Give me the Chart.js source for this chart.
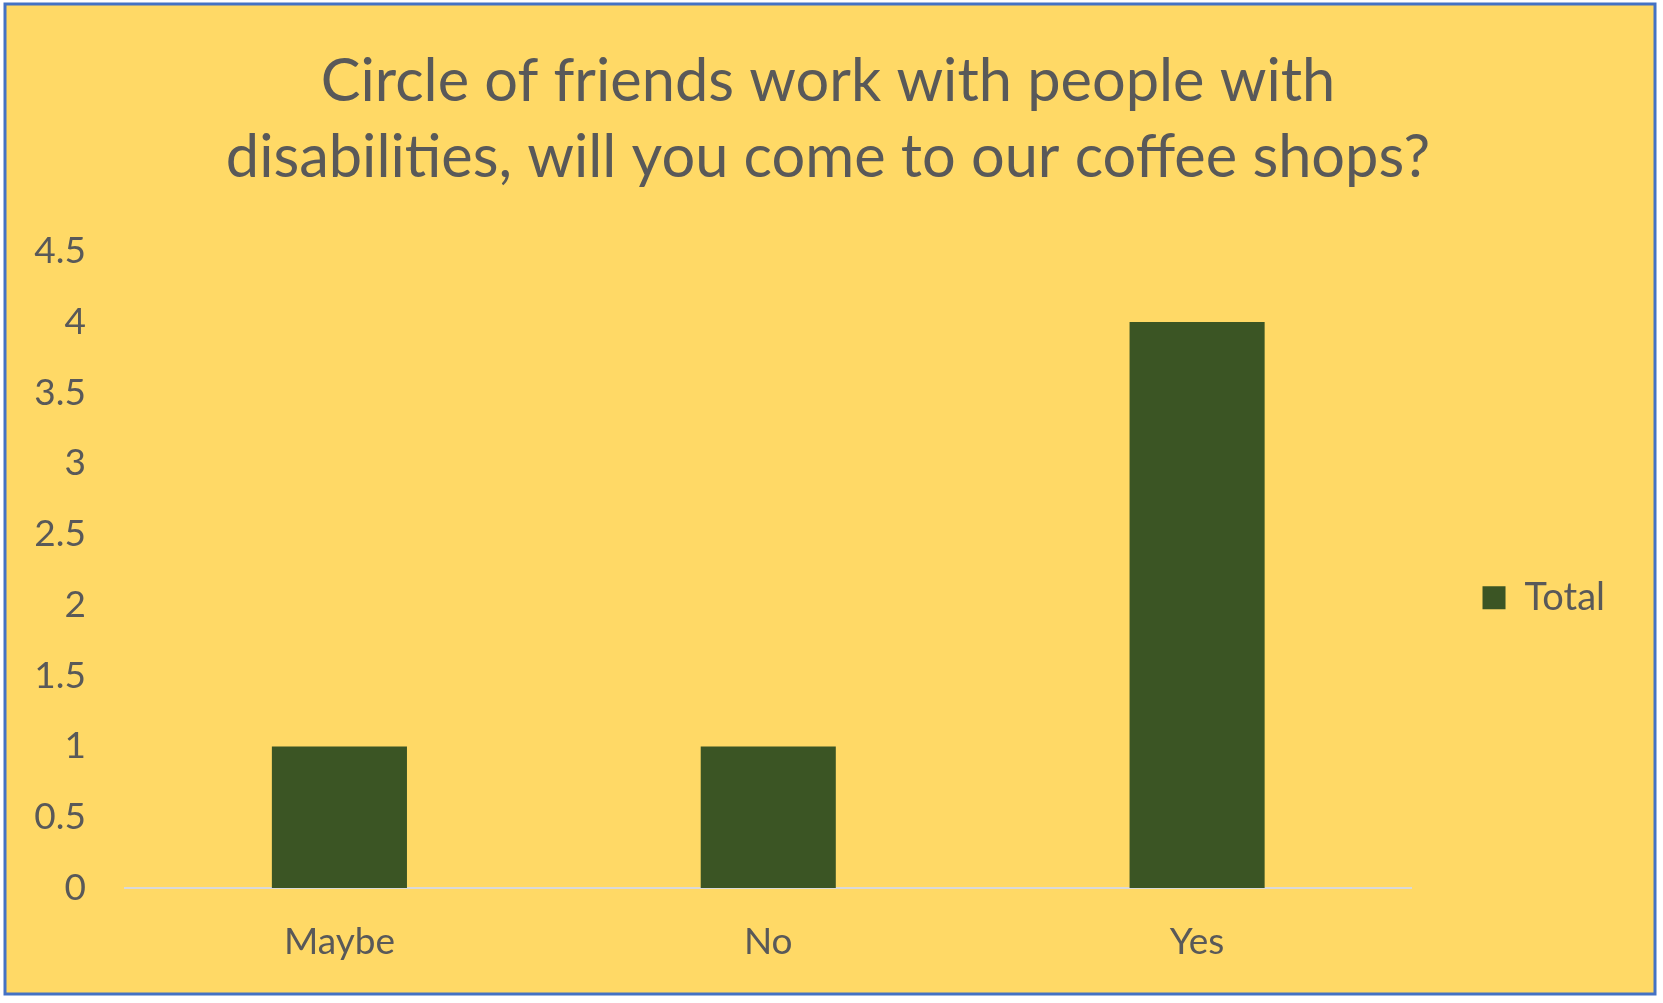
<!DOCTYPE html>
<html>
<head>
<meta charset="utf-8">
<script src="https://cdn.jsdelivr.net/npm/chart.js@4/dist/chart.umd.min.js"></script>
<style>
  html, body { margin: 0; padding: 0; background: #ffffff; }
  #wrap { position: relative; width: 1663px; height: 1003px; }
  canvas { display: block; }
</style>
</head>
<body>
<div id="wrap"><canvas id="c" width="1663" height="1003"></canvas></div>
<script>
const titleLines = ['Circle of friends work with people with', 'disabilities, will you come to our coffee shops?'];
const categories = ['Maybe', 'No', 'Yes'];
const seriesName = 'Total';
const totals = [1, 1, 4];
const yTickLabels = ['0', '0.5', '1', '1.5', '2', '2.5', '3', '3.5', '4', '4.5'];

const FONT = 'Lato, "Open Sans", "DejaVu Sans", sans-serif';
const TEXT = '#595959';

const bgPlugin = {
  id: 'bg',
  beforeDraw(chart) {
    const ctx = chart.ctx;
    ctx.save();
    ctx.fillStyle = '#ffffff';
    ctx.fillRect(0, 0, chart.width, chart.height);
    ctx.fillStyle = '#FFD966';
    ctx.fillRect(5, 4, 1650, 990);
    ctx.strokeStyle = '#4472C4';
    ctx.lineWidth = 3;
    ctx.strokeRect(5, 4, 1650, 990);
    ctx.restore();
  }
};

// centre the title on the framed chart rather than on the padded box
const titleCentre = {
  id: 'titleCentre',
  afterLayout(chart) {
    const tb = chart.titleBlock;
    if (tb) {
      const centre = 828;
      tb.left = 2 * centre - tb.right;
      tb.width = tb.right - tb.left;
    }
  }
};

new Chart(document.getElementById('c'), {
  type: 'bar',
  data: {
    labels: categories,
    datasets: [{
      label: seriesName,
      data: totals,
      backgroundColor: '#3B5524',
      borderWidth: 0,
      barPercentage: 0.63,
      categoryPercentage: 0.5
    }]
  },
  options: {
    responsive: false,
    animation: false,
    devicePixelRatio: 1,
    layout: { padding: { left: 0, right: 48, top: 0, bottom: 0 } },
    plugins: {
      title: {
        display: true,
        text: titleLines,
        color: TEXT,
        font: { family: FONT, size: 59.5, weight: 'normal', lineHeight: 1.28 },
        padding: { top: 44, bottom: 55 }
      },
      legend: {
        display: true,
        position: 'right',
        fullSize: false,
        title: {
          display: true,
          text: ' ',
          font: { family: FONT, size: 35, lineHeight: 1.2 },
          padding: 7
        },
        labels: {
          color: TEXT,
          font: { family: FONT, size: 38 },
          boxWidth: 23,
          boxHeight: 23,
          padding: 71
        }
      },
      tooltip: { enabled: false }
    },
    scales: {
      x: {
        grid: { display: false, drawTicks: false },
        border: { display: true, color: '#D9D9D9', width: 2 },
        ticks: { color: TEXT, font: { family: FONT, size: 37 }, padding: 32 },
        afterFit(scale) { scale.height = 115; }
      },
      y: {
        min: 0,
        max: 4.5,
        grid: { display: false, drawTicks: false },
        border: { display: false },
        ticks: {
          stepSize: 0.5,
          color: TEXT,
          font: { family: FONT, size: 37 },
          padding: 39,
          callback: (v, i) => yTickLabels[i]
        },
        afterFit(scale) { scale.width = 125; }
      }
    }
  },
  plugins: [bgPlugin, titleCentre]
});
</script>
</body>
</html>
